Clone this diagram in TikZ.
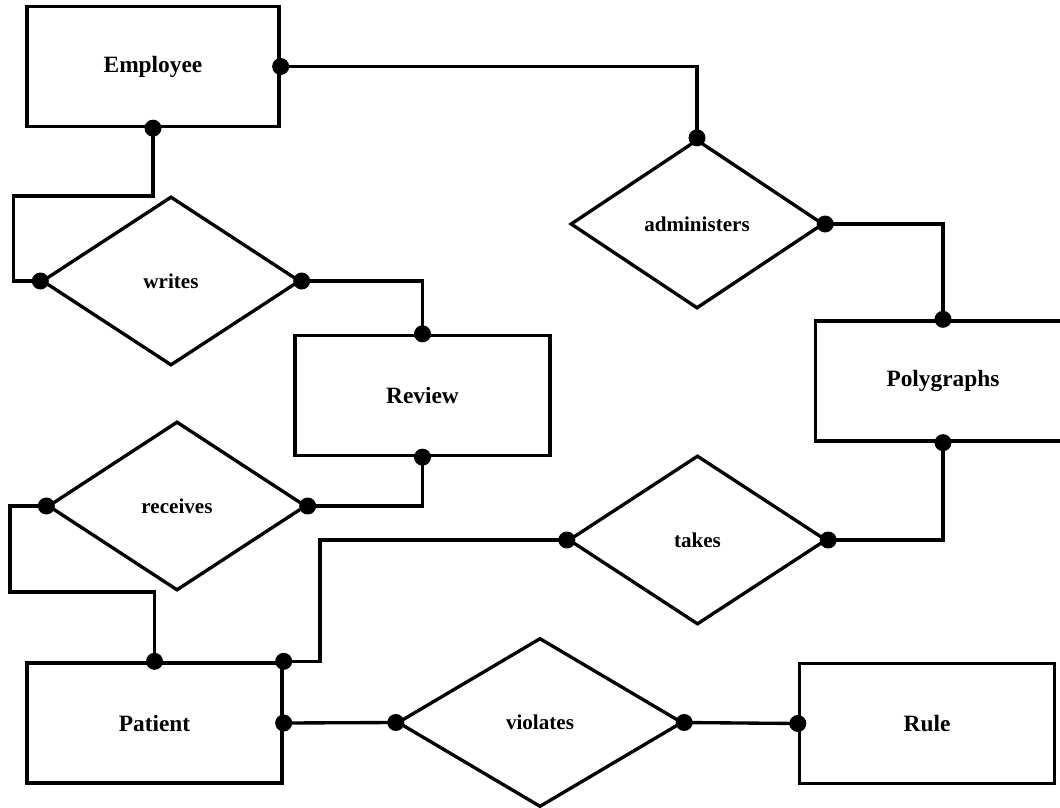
\documentclass[tikz,border=0pt]{standalone}
\usepackage{fontspec}
\setmainfont{Liberation Serif}
\usetikzlibrary{shapes.geometric}
\begin{document}
\begin{tikzpicture}

        % Styles
        \tikzstyle{entity}=[draw,line width=1.9pt,rectangle,minimum width=5.1cm,minimum height=2.4cm,font=\bfseries\fontsize{13.3}{15}\selectfont]
        \tikzstyle{relation}=[draw,line width=1.9pt,diamond,minimum width=5.16cm,minimum height=3.38cm,inner sep=0pt,font=\bfseries\fontsize{12}{14}\selectfont]
        \tikzstyle{link}=[line width=1.9pt]
        %The graphic
        \useasboundingbox (0,0) rectangle (21.2,-16.14);
        %entities
        \node[entity,minimum width=5.04cm] (emp) at (3.06,-1.33) {Employee};
        \node[entity] (poly) at (18.86,-7.62) {Polygraphs};
        \node[entity] (rev) at (8.45,-7.91) {Review};
        \node[entity] (pat) at (3.09,-14.46) {Patient};
        \node[entity] (rul) at (18.54,-14.47) {Rule};
        %relationships
        \node[relation,minimum width=5.06cm] (adm) at (13.94,-4.48) {administers};
        \node[relation] (wri) at (3.42,-5.62) {writes};
        \node[relation] (rec) at (3.54,-10.12) {receives};
        \node[relation] (tak) at (13.95,-10.8) {takes};
        \node[relation,minimum width=5.7cm] (vio) at (10.8,-14.45) {violates};
        %bends
        \coordinate (wbend) at (0.27,-3.92);
        \coordinate (rbend) at (0.2,-11.84);
        \coordinate (tbend) at (6.4,-10.8);
        %connectors
        \draw[link] (emp.east) -| (adm.north);
        \draw[link] (adm.east) -| (poly.north);
        \draw[link] (emp.south) |- (wbend) |- (wri.west);
        \draw[link] (wri.east) -| (rev.north);
        \draw[link] (rec.east) -| (rev.south);
        \draw[link] (rec.west) -| (rbend) -| (pat.north);
        \draw[link] (pat.north east) -| (tbend) -- (tak.west);
        \draw[link] (tak.east) -| (poly.south);
        \draw[link] (pat.east) -- (vio.west);
        \draw[link] (vio.east) -- (rul.west);
        %dots
        \foreach \a in {emp.east,emp.south,adm.north,adm.east,poly.north,poly.south,
                        wri.west,wri.east,rev.north,rev.south,rec.west,rec.east,
                        pat.north,pat.north east,pat.east,tak.west,tak.east,
                        vio.west,vio.east,rul.west}
            \fill (\a) circle (0.17);
\end{tikzpicture}
\end{document}
